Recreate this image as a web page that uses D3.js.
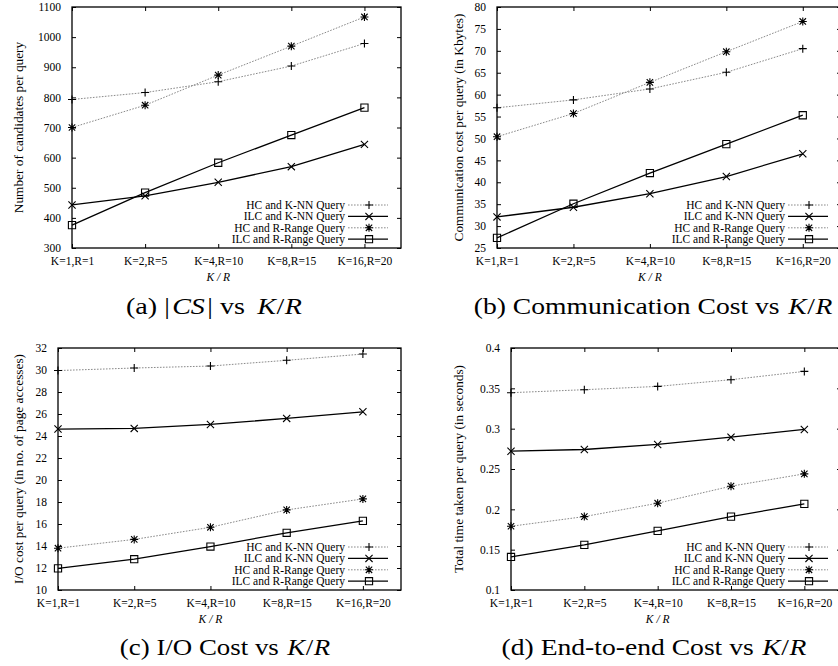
<!DOCTYPE html>
<html>
<head>
<meta charset="utf-8">
<script src="https://cdn.jsdelivr.net/npm/d3@7"></script>
<style>
  html, body { margin: 0; padding: 0; background: #fff; }
  svg { display: block; }
  text, tspan { font-family: "Liberation Serif", "Times New Roman", serif; fill: #000; }
</style>
</head>
<body>
<svg id="chart" width="838" height="666"></svg>
<script>
// ---------- DATA ----------
const categories = ["K=1,R=1", "K=2,R=5", "K=4,R=10", "K=8,R=15", "K=16,R=20"];
const seriesNames = ["HC and K-NN Query", "ILC and K-NN Query", "HC and R-Range Query", "ILC and R-Range Query"];

// (a) |CS|: number of candidates per query
const csHcKnn   = [793, 816, 852, 904, 979];
const csIlcKnn  = [443, 473, 518, 570, 644];
const csHcRange = [700, 774, 874, 970, 1067];
const csIlcRange= [376, 484, 583, 675, 766];
const csTicks = [300, 400, 500, 600, 700, 800, 900, 1000, 1100];

// (b) Communication cost (Kbytes)
const commHcKnn   = [57.0, 58.8, 61.3, 65.1, 70.5];
const commIlcKnn  = [32.1, 34.3, 37.4, 41.3, 46.5];
const commHcRange = [50.4, 55.7, 62.8, 69.8, 76.7];
const commIlcRange= [27.3, 35.1, 42.1, 48.7, 55.3];
const commTicks = [25, 30, 35, 40, 45, 50, 55, 60, 65, 70, 75, 80];

// (c) I/O cost (page accesses)
const ioHcKnn   = [29.95, 30.18, 30.36, 30.88, 31.45];
const ioIlcKnn  = [24.63, 24.69, 25.05, 25.6, 26.2];
const ioHcRange = [13.8, 14.6, 15.7, 17.28, 18.28];
const ioIlcRange= [11.97, 12.8, 13.95, 15.2, 16.28];
const ioTicks = [10, 12, 14, 16, 18, 20, 22, 24, 26, 28, 30, 32];

// (d) End-to-end time (seconds)
const timeHcKnn   = [0.3446, 0.3483, 0.3524, 0.3607, 0.371];
const timeIlcKnn  = [0.2721, 0.2742, 0.2804, 0.2895, 0.299];
const timeHcRange = [0.179, 0.191, 0.2076, 0.2287, 0.244];
const timeIlcRange= [0.141, 0.156, 0.1733, 0.191, 0.2068];
const timeTicks = [0.1, 0.15, 0.2, 0.25, 0.3, 0.35, 0.4];
const timeTickLabels = ["0.1", "0.15", "0.2", "0.25", "0.3", "0.35", "0.4"];

// ---------- STYLES ----------
const styles = [
  { marker: "plus",   dashed: true },
  { marker: "cross",  dashed: false },
  { marker: "star",   dashed: true },
  { marker: "square", dashed: false }
];

const SERIF = '"Liberation Serif", "Times New Roman", serif';
const svg = d3.select("#chart");

function markerPath(type, x, y) {
  const p = d3.path();
  const h = 4, c = 3.6, s = 3.6;
  if (type === "plus" || type === "star") {
    p.moveTo(x - h, y); p.lineTo(x + h, y);
    p.moveTo(x, y - h); p.lineTo(x, y + h);
  }
  if (type === "cross" || type === "star") {
    const cc = type === "star" ? 3.2 : c;
    p.moveTo(x - cc, y - cc); p.lineTo(x + cc, y + cc);
    p.moveTo(x - cc, y + cc); p.lineTo(x + cc, y - cc);
  }
  if (type === "square") {
    p.rect(x - s, y - s, 2 * s, 2 * s);
  }
  return p.toString();
}

function drawPanel(cfg) {
  const g = svg.append("g");
  const x = d3.scaleLinear().domain([0, categories.length - 0.5]).range([cfg.left, cfg.right]);
  const y = d3.scaleLinear().domain([cfg.ticks[0], cfg.ticks[cfg.ticks.length - 1]]).range([cfg.bottom, cfg.top]);
  const fmt = cfg.tickLabels ? (d, i) => cfg.tickLabels[i] : d => String(d);

  // axes (ticks inward)
  const tl = 4;
  const yAxisL = d3.axisLeft(y).tickValues(cfg.ticks).tickFormat(fmt).tickSizeInner(-tl).tickSizeOuter(0).tickPadding(7 + tl);
  const yAxisR = d3.axisRight(y).tickValues(cfg.ticks).tickFormat("").tickSizeInner(-tl).tickSizeOuter(0);
  const xAxisB = d3.axisBottom(x).tickValues(d3.range(categories.length)).tickFormat(i => categories[i]).tickSizeInner(-tl).tickSizeOuter(0).tickPadding(7 + tl);
  const xAxisT = d3.axisTop(x).tickValues(d3.range(categories.length)).tickFormat("").tickSizeInner(-tl).tickSizeOuter(0);

  const gl = g.append("g").attr("transform", `translate(${cfg.left},0)`).call(yAxisL);
  const gr = g.append("g").attr("transform", `translate(${cfg.right},0)`).call(yAxisR);
  const gb = g.append("g").attr("transform", `translate(0,${cfg.bottom})`).call(xAxisB);
  const gt = g.append("g").attr("transform", `translate(0,${cfg.top})`).call(xAxisT);
  [gl, gr, gb, gt].forEach(a => {
    a.attr("font-family", null).attr("font-size", null);
    a.select(".domain").remove();
    a.selectAll(".tick line").attr("stroke", "#000").attr("stroke-width", 1);
    a.selectAll(".tick text").style("font-family", SERIF).style("font-size", "11.5px").attr("fill", "#000");
  });
  gb.selectAll(".tick text").attr("dy", "0.55em");

  // series
  cfg.series.forEach((vals, si) => {
    const st = styles[si];
    const line = d3.line().x((d, i) => x(i)).y(d => y(d));
    g.append("path").datum(vals).attr("d", line).attr("fill", "none")
      .attr("stroke", st.dashed ? "#8a8a8a" : "#000")
      .attr("stroke-width", st.dashed ? 1 : 1.3)
      .attr("stroke-dasharray", st.dashed ? "1.6,1.4" : null);
    g.append("path").attr("d", vals.map((v, i) => markerPath(st.marker, x(i), y(v))).join(""))
      .attr("fill", "none").attr("stroke", "#000").attr("stroke-width", 1.1);
  });

  // frame
  g.append("rect").attr("x", cfg.left).attr("y", cfg.top)
    .attr("width", cfg.right - cfg.left).attr("height", cfg.bottom - cfg.top)
    .attr("fill", "none").attr("stroke", "#000").attr("stroke-width", 1.3);

  // legend
  seriesNames.forEach((name, si) => {
    const st = styles[si];
    const ly = cfg.bottom - 43 + si * 11.4;
    g.append("text").attr("x", cfg.legendX).attr("y", ly).attr("dy", "0.35em")
      .attr("text-anchor", "end").style("font-family", SERIF).style("font-size", "11.5px").text(name);
    g.append("line").attr("x1", cfg.legendX + 3).attr("x2", cfg.legendX + 43)
      .attr("y1", ly).attr("y2", ly)
      .attr("stroke", st.dashed ? "#8a8a8a" : "#000")
      .attr("stroke-width", st.dashed ? 1 : 1.3)
      .attr("stroke-dasharray", st.dashed ? "1.6,1.4" : null);
    g.append("path").attr("d", markerPath(st.marker, cfg.legendX + 24, ly))
      .attr("fill", "none").attr("stroke", "#000").attr("stroke-width", 1.1);
  });

  // y label
  const cy = (cfg.top + cfg.bottom) / 2;
  g.append("text").attr("transform", `translate(${cfg.ylabelX},${cy}) rotate(-90)`)
    .attr("text-anchor", "middle").attr("dy", "0.35em")
    .style("font-family", SERIF).style("font-size", "13.3px").text(cfg.ylabel);

  // x label
  g.append("text").attr("x", x(2)).attr("y", cfg.bottom + 33)
    .attr("text-anchor", "middle").style("font-family", SERIF).style("font-size", "11.5px")
    .style("font-style", "italic").text("K / R");

  // caption (serif, widened to match the reference's Computer-Modern width)
  const cap = g.append("text")
    .attr("transform", `translate(${cfg.capX},${cfg.capY}) scale(${cfg.sx || 1.15},1)`)
    .attr("text-anchor", "middle").style("font-family", SERIF).style("font-size", "24px");
  cfg.caption.forEach(part => {
    const ts = cap.append("tspan").style("font-family", SERIF)
      .style("font-style", part.i ? "italic" : "normal").text(part.t);
    if (part.dx) ts.attr("dx", part.dx);
  });
}

const krCaption = [{ t: "K", i: true, dx: 1.5 }, { t: "/", i: false, dx: 0.5 }, { t: "R", i: true, dx: 0.5 }];

drawPanel({
  left: 72, right: 401, top: 7, bottom: 248,
  ticks: csTicks, series: [csHcKnn, csIlcKnn, csHcRange, csIlcRange],
  ylabel: "Number of candidates per query", ylabelX: 18,
  legendX: 345, capX: 214, capY: 314, sx: 1.17,
  caption: [{ t: "(a) |", i: false }, { t: "CS", i: true, dx: 2 }, { t: "| vs", i: false, dx: 2 }, { t: " ", i: false, dx: 3 }, ...krCaption]
});
drawPanel({
  left: 497, right: 841, top: 7, bottom: 248,
  ticks: commTicks, series: [commHcKnn, commIlcKnn, commHcRange, commIlcRange],
  ylabel: "Communication cost per query (in Kbytes)", ylabelX: 458,
  legendX: 785, capX: 653, capY: 314, sx: 1.15,
  caption: [{ t: "(b) Communication Cost vs ", i: false }, ...krCaption]
});
drawPanel({
  left: 58, right: 401, top: 348, bottom: 590,
  ticks: ioTicks, series: [ioHcKnn, ioIlcKnn, ioHcRange, ioIlcRange],
  ylabel: "I/O cost per query (in no. of page accesses)", ylabelX: 18,
  legendX: 345, capX: 225, capY: 655, sx: 1.12,
  caption: [{ t: "(c) I/O Cost vs ", i: false }, ...krCaption]
});
drawPanel({
  left: 511, right: 841, top: 348, bottom: 590,
  ticks: timeTicks, tickLabels: timeTickLabels, series: [timeHcKnn, timeIlcKnn, timeHcRange, timeIlcRange],
  ylabel: "Total time taken per query (in seconds)", ylabelX: 458,
  legendX: 785, capX: 654, capY: 655, sx: 1.15,
  caption: [{ t: "(d) End-to-end Cost vs ", i: false }, ...krCaption]
});
</script>
</body>
</html>
